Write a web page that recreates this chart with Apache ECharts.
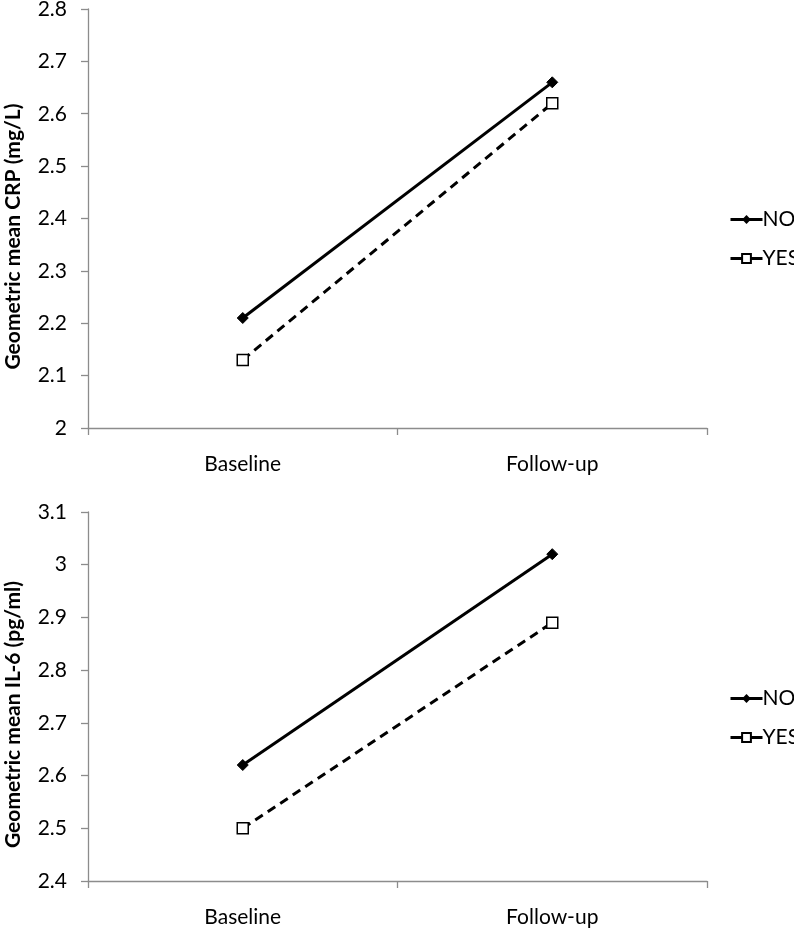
<!DOCTYPE html>
<html><head><meta charset="utf-8">
<script src="https://cdn.jsdelivr.net/npm/echarts@6/dist/echarts.min.js"></script>
<style>html,body{margin:0;padding:0;background:#fff}#c{width:794px;height:928px}</style>
</head><body><div id="c"></div>
<script>
const categories = ['Baseline', 'Follow-up'];
const crpNo = [2.21, 2.66];
const crpYes = [2.13, 2.62];
const il6No = [2.62, 3.02];
const il6Yes = [2.50, 2.89];
const seriesNames = ['NO', 'YES'];
const crpAxisName = 'Geometric mean CRP (mg/L)';
const il6AxisName = 'Geometric mean IL-6 (pg/ml)';

const FONT = 'Lato';
const axisGray = '#8c8c8c';
const chart = echarts.init(document.getElementById('c'));

function xAxis(gi) {
  return {
    type: 'category', gridIndex: gi, data: categories, boundaryGap: true,
    axisLine: {lineStyle: {color: axisGray, width: 1.3}},
    axisTick: {show: true, length: 7, lineStyle: {color: axisGray, width: 1.3}},
    axisLabel: {color: '#000', fontSize: 21, fontFamily: FONT, margin: 26}
  };
}
function yAxis(gi, min, max, name) {
  return {
    type: 'value', gridIndex: gi, min: min, max: max, interval: 0.1,
    name: name, nameLocation: 'middle', nameGap: 64, nameRotate: 90,
    nameTextStyle: {color: '#000', fontSize: 21, fontWeight: 'bold', fontFamily: FONT,
      padding: [0, 36, 0, 0]},
    axisLine: {show: true, lineStyle: {color: axisGray, width: 1.3}},
    axisTick: {show: true, length: 7, lineStyle: {color: axisGray, width: 1.3}},
    splitLine: {show: false},
    axisLabel: {color: '#000', fontSize: 21, fontFamily: FONT, margin: 21,
      formatter: v => String(Math.round(v * 10) / 10)}
  };
}
function noSeries(gi, data) {
  return {name: seriesNames[0], type: 'line', xAxisIndex: gi, yAxisIndex: gi, data: data,
    symbol: 'diamond', symbolSize: 11, showSymbol: true,
    lineStyle: {color: '#000', width: 3}, itemStyle: {color: '#000', borderColor: '#000'},
    animation: false};
}
function yesSeries(gi, data) {
  return {name: seriesNames[1], type: 'line', xAxisIndex: gi, yAxisIndex: gi, data: data,
    symbol: 'rect', symbolSize: 11, showSymbol: true,
    lineStyle: {color: '#000', width: 3, type: [9, 6]},
    itemStyle: {color: '#fff', borderColor: '#000', borderWidth: 1.5},
    animation: false};
}
function legend(top) {
  return {
    orient: 'vertical', left: 724, top: top, itemWidth: 32, itemHeight: 11, itemGap: 18,
    lineStyle: {type: 'solid', width: 3},
    textStyle: {color: '#000', fontSize: 21, fontFamily: FONT, padding: [0, 0, 0, -5]},
    data: seriesNames
  };
}

const opt = {
  animation: false,
  grid: [
    {left: 88, top: 9, width: 619, height: 419, outerBoundsMode: 'none', containLabel: false},
    {left: 88, top: 512, width: 619, height: 369, outerBoundsMode: 'none', containLabel: false}
  ],
  xAxis: [xAxis(0), xAxis(1)],
  yAxis: [yAxis(0, 2, 2.8, crpAxisName), yAxis(1, 2.4, 3.1, il6AxisName)],
  legend: [legend(204), legend(683)],
  series: [noSeries(0, crpNo), yesSeries(0, crpYes), noSeries(1, il6No), yesSeries(1, il6Yes)]
};
chart.setOption(opt);
</script>
</body></html>
